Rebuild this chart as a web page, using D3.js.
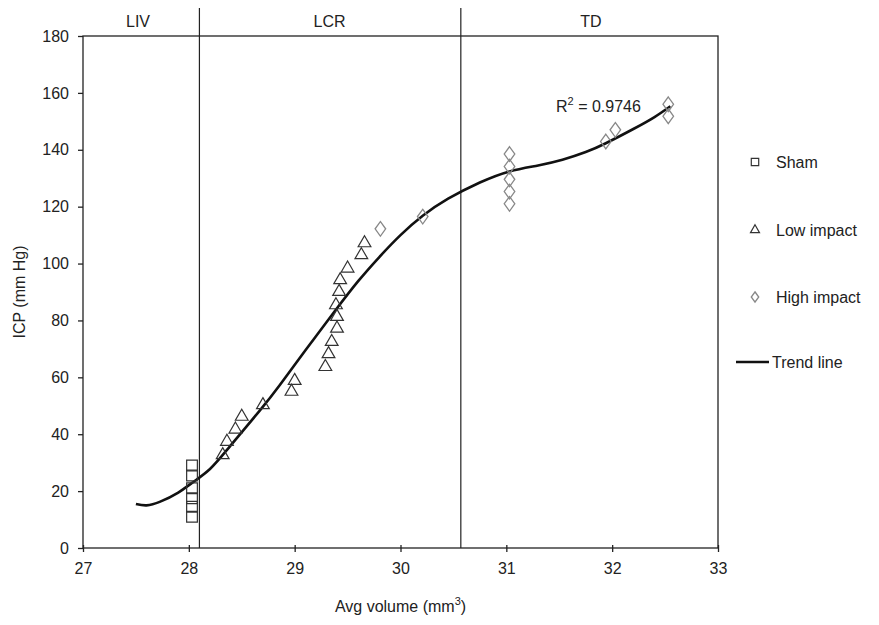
<!DOCTYPE html>
<html>
<head>
<meta charset="utf-8">
<script src="https://cdn.jsdelivr.net/npm/d3@7"></script>
<style>
  body { margin: 0; background: #fff; }
  text { font-family: "Liberation Sans", Arial, sans-serif; fill: #222; }
</style>
</head>
<body>
<div id="chart"></div>
<script>
// data
const shamX = [28.03, 28.03, 28.03, 28.03, 28.03, 28.03];
const shamY = [29, 25.5, 21, 17.5, 14.5, 11];

const lowX = [28.32, 28.36, 28.44, 28.50, 28.70, 28.97, 29.0, 29.29, 29.32, 29.35, 29.40, 29.40, 29.39, 29.42, 29.43, 29.50, 29.63, 29.66];
const lowY = [32.7, 37.4, 41.7, 46.2, 50.3, 55, 58.8, 63.7, 68.2, 72.5, 77.2, 81.3, 85.4, 90.1, 94.2, 98.3, 103, 107.2];

const highX = [29.81, 30.21, 31.03, 31.03, 31.03, 31.03, 31.03, 31.94, 32.03, 32.53, 32.53];
const highY = [112.2, 116.5, 138.5, 134.1, 129.6, 125.3, 121.0, 142.9, 147, 156, 151.8];

const trendX = [27.5, 27.6, 27.73, 27.9, 28.03, 28.2, 28.39, 28.67, 28.86, 29.1, 29.38, 29.6, 29.8, 30.0, 30.21, 30.45, 30.75, 31.03, 31.3, 31.53, 31.75, 31.94, 32.2, 32.4, 32.55];
const trendY = [15.5, 15, 16.3, 19.5, 22.9, 27.8, 35.8, 48.3, 57.3, 69.4, 83.3, 93.8, 102.3, 110, 116.8, 122.8, 128.5, 132.4, 134.5, 136.5, 139.2, 142.3, 147.3, 151.5, 155.3];

const xTicks = [27, 28, 29, 30, 31, 32, 33];
const yTicks = [0, 20, 40, 60, 80, 100, 120, 140, 160, 180];

const regionBounds = [28.1, 30.57];
const regionLabels = ["LIV", "LCR", "TD"];
const regionCenters = [27.52, 29.33, 31.8];

const legendLabels = ["Sham", "Low impact", "High impact", "Trend line"];

const width = 879, height = 625;
const margin = {left: 83, right: 161, top: 36, bottom: 77};

const svg = d3.select("#chart").append("svg")
  .attr("width", width)
  .attr("height", height);

const x = d3.scaleLinear().domain([27, 33]).range([margin.left, width - margin.right]);
const y = d3.scaleLinear().domain([0, 180]).range([height - margin.bottom, margin.top]);

// plot frame
svg.append("rect")
  .attr("x", x(27)).attr("y", y(180))
  .attr("width", x(33) - x(27)).attr("height", y(0) - y(180))
  .attr("fill", "none").attr("stroke", "#222").attr("stroke-width", 1.3);

// y axis
const yAxis = svg.append("g")
  .attr("transform", `translate(${x(27)},0)`)
  .call(d3.axisLeft(y).tickValues(yTicks).tickSize(5).tickPadding(9).tickFormat(d3.format("d")));
yAxis.select(".domain").remove();
yAxis.selectAll("line").attr("stroke", "#222").attr("stroke-width", 1.3);
yAxis.selectAll("text").style("font-size", "16px").attr("fill", "#222");

// x axis
const xAxis = svg.append("g")
  .attr("transform", `translate(0,${y(0)})`)
  .call(d3.axisBottom(x).tickValues(xTicks).tickSize(4).tickPadding(11).tickFormat(d3.format("d")));
xAxis.select(".domain").remove();
xAxis.selectAll("line").attr("y1", -3).attr("stroke", "#222").attr("stroke-width", 1.3);
xAxis.selectAll("text").style("font-size", "16px").attr("fill", "#222");

// region dividers
svg.selectAll(".divider")
  .data(regionBounds)
  .join("line")
    .attr("class", "divider")
    .attr("x1", d => x(d)).attr("x2", d => x(d))
    .attr("y1", 8).attr("y2", y(0))
    .attr("stroke", "#222").attr("stroke-width", 1.2);

svg.selectAll(".region")
  .data(regionLabels)
  .join("text")
    .attr("class", "region")
    .attr("x", (d, i) => x(regionCenters[i]))
    .attr("y", 27)
    .attr("text-anchor", "middle")
    .style("font-size", "16px")
    .text(d => d);

// trend line
const line = d3.line()
  .x(d => x(d[0]))
  .y(d => y(d[1]))
  .curve(d3.curveNatural);

svg.append("path")
  .datum(trendX.map((v, i) => [v, trendY[i]]))
  .attr("d", line)
  .attr("fill", "none")
  .attr("stroke", "#111")
  .attr("stroke-width", 2.6);

// markers
const sq = d3.symbol().type(d3.symbolSquare).size(115);
const tri = d3.symbol().type(d3.symbolTriangle).size(70);
const dia = d3.symbol().type(d3.symbolDiamond).size(62);

svg.append("g").selectAll("path")
  .data(shamX.map((v, i) => [v, shamY[i]]))
  .join("path")
    .attr("transform", d => `translate(${x(d[0])},${y(d[1])})`)
    .attr("d", sq)
    .attr("fill", "none").attr("stroke", "#333").attr("stroke-width", 1.2);

svg.append("g").selectAll("path")
  .data(lowX.map((v, i) => [v, lowY[i]]))
  .join("path")
    .attr("transform", d => `translate(${x(d[0])},${y(d[1])})`)
    .attr("d", tri)
    .attr("fill", "none").attr("stroke", "#333").attr("stroke-width", 1.2);

svg.append("g").selectAll("path")
  .data(highX.map((v, i) => [v, highY[i]]))
  .join("path")
    .attr("transform", d => `translate(${x(d[0])},${y(d[1])}) scale(1.25,1)`)
    .attr("d", dia)
    .attr("fill", "none").attr("stroke", "#888").attr("stroke-width", 1.1);

// R squared
const r2 = svg.append("text")
  .attr("x", 556).attr("y", 112)
  .style("font-size", "16px");
r2.append("tspan").text("R");
r2.append("tspan").attr("dy", -7).style("font-size", "11px").text("2");
r2.append("tspan").attr("dy", 7).text(" = 0.9746");

// x / y titles
svg.append("text")
  .attr("x", x(30)).attr("y", 612)
  .attr("text-anchor", "middle")
  .style("font-size", "16px")
  .call(t => {
    t.append("tspan").text("Avg volume (mm");
    t.append("tspan").attr("dy", -7).style("font-size", "11px").text("3");
    t.append("tspan").attr("dy", 7).text(")");
  });

svg.append("text")
  .attr("transform", `translate(25,${y(90)}) rotate(-90)`)
  .attr("text-anchor", "middle")
  .style("font-size", "16px")
  .text("ICP (mm Hg)");

// legend
const legend = svg.append("g");
const legendY = [162, 230, 297, 362];
const legendSym = [
  d3.symbol().type(d3.symbolSquare).size(55),
  d3.symbol().type(d3.symbolTriangle).size(35),
  d3.symbol().type(d3.symbolDiamond).size(30)
];
const legendStroke = ["#333", "#333", "#888"];

legend.selectAll("path.sym")
  .data(legendSym)
  .join("path")
    .attr("class", "sym")
    .attr("transform", (d, i) => `translate(755,${legendY[i]})` + (i === 2 ? " scale(1.25,1)" : ""))
    .attr("d", d => d())
    .attr("fill", "none")
    .attr("stroke", (d, i) => legendStroke[i])
    .attr("stroke-width", 1.2);

legend.append("line")
  .attr("x1", 736).attr("x2", 769)
  .attr("y1", legendY[3]).attr("y2", legendY[3])
  .attr("stroke", "#111").attr("stroke-width", 2.6);

legend.selectAll("text")
  .data(legendLabels)
  .join("text")
    .attr("x", (d, i) => i === 3 ? 772 : 776)
    .attr("y", (d, i) => legendY[i] + 6)
    .style("font-size", "16px")
    .text(d => d);
</script>
</body>
</html>
